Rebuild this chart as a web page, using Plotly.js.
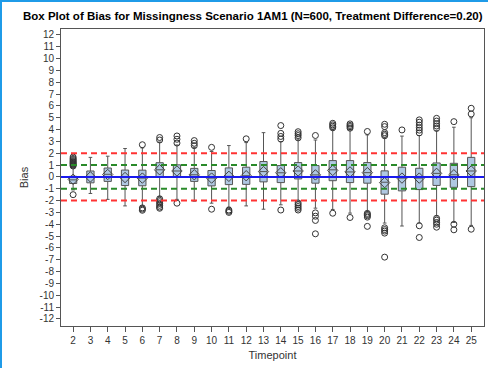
<!DOCTYPE html>
<html>
<head>
<meta charset="utf-8">
<script src="https://cdn.plot.ly/plotly-3.0.1.min.js"></script>
<style>
  html, body { margin: 0; padding: 0; background: #fff; }
  #wrap { position: relative; width: 488px; height: 368px; }
  #chart { width: 488px; height: 368px; }
  .edge { position: absolute; background: #1f9be8; }
</style>
</head>
<body>
<div id="wrap">
  <div id="chart"></div>
  <div class="edge" style="left:0;top:0;width:488px;height:2px;"></div>
  <div class="edge" style="left:0;top:0;width:2px;height:368px;"></div>
</div>
<script>
const timepoints   = [2, 3, 4, 5, 6, 7, 8, 9, 10, 11, 12, 13, 14, 15, 16, 17, 18, 19, 20, 21, 22, 23, 24, 25];
const q1           = [-0.56, -0.50, -0.38, -0.73, -0.75, 0.03, -0.05, -0.38, -0.76, -0.65, -0.63, -0.42, -0.48, -0.17, -0.53, -0.32, -0.48, -0.53, -1.46, -1.18, -1.07, -0.72, -0.88, -0.82];
const medians      = [-0.25, 0.00, 0.22, -0.05, -0.10, 0.60, 0.50, 0.18, -0.10, 0.05, 0.10, 0.45, 0.35, 0.50, 0.17, 0.60, 0.42, 0.36, -0.45, -0.10, -0.10, 0.30, 0.18, 0.50];
const q3           = [0.05, 0.50, 0.75, 0.58, 0.57, 1.20, 1.02, 0.72, 0.54, 0.76, 0.82, 1.30, 0.96, 1.21, 0.96, 1.38, 1.38, 1.21, 0.51, 0.82, 0.73, 1.18, 1.15, 1.65];
const lowerWhisker = [-1.10, -1.40, -1.90, -2.45, -2.45, -1.65, -1.90, -2.05, -2.22, -2.56, -2.45, -2.73, -2.36, -2.08, -2.64, -2.75, -3.06, -2.95, -3.90, -4.15, -3.90, -3.30, -3.85, -4.10];
const upperWhisker = [0.85, 1.65, 1.75, 2.40, 2.45, 2.95, 2.70, 2.50, 2.15, 2.65, 2.90, 3.74, 2.98, 3.20, 3.12, 4.00, 4.00, 3.55, 3.30, 3.45, 3.50, 3.90, 4.20, 5.00];
const means        = [-0.20, 0.00, 0.20, -0.05, -0.10, 0.60, 0.50, 0.18, -0.10, 0.05, 0.10, 0.45, 0.35, 0.50, 0.17, 0.55, 0.42, 0.36, -0.48, -0.10, -0.10, 0.30, 0.18, 0.50];
const outliers = [
  [0.92, 1.00, 1.08, 1.15, 1.22, 1.30, 1.38, 1.47, 1.56, 1.68, -1.50],
  [],
  [],
  [],
  [2.72, -2.62, -2.72, -2.82],
  [3.12, 3.33, -1.85, -1.98, -2.10, -2.25, -2.40, -2.55, -2.65],
  [2.86, 3.18, 3.46, -2.22],
  [2.64, 2.84, 3.07],
  [2.50, -2.73],
  [-2.80, -2.90, -3.00],
  [3.22],
  [],
  [3.20, 3.42, 3.68, 4.34, -2.80],
  [3.30, 3.50, 3.65, 3.82, -2.20, -2.35, -2.50, -2.65, -2.80],
  [3.50, -3.04, -3.32, -3.68, -4.81],
  [4.15, 4.28, 4.40, 4.53, -3.07],
  [4.12, 4.25, 4.35, 4.48, -3.43],
  [3.84, -3.08, -3.18, -3.28, -3.40, -4.18],
  [3.48, 3.60, 3.74, 4.25, 4.45, -4.30, -4.45, -4.58, -4.75, -6.78],
  [3.97],
  [3.72, 3.95, 4.15, 4.38, 4.62, 4.82, -4.13, -5.12],
  [4.10, 4.30, 4.50, 4.72, 4.95, -3.50, -3.65, -3.85, -4.00, -4.25],
  [4.67, -4.00, -4.47],
  [5.32, 5.80, -4.42]
];
const yTickVals = [-12, -11, -10, -9, -8, -7, -6, -5, -4, -3, -2, -1, 0, 1, 2, 3, 4, 5, 6, 7, 8, 9, 10, 11, 12];
const refValues = [2, -2, 1, -1, 0];
const refColors = ['#ff3333', '#ff3333', '#2a8a2a', '#2a8a2a', '#1a1aee'];
const refDashes = ['6px,4px', '6px,4px', '6px,4px', '6px,4px', 'solid'];

const outX = [], outY = [];
outliers.forEach((arr, i) => arr.forEach(v => { outX.push(timepoints[i]); outY.push(v); }));

const FONT = 'Liberation Sans, Arial, Helvetica, sans-serif';

const traces = [
  {
    type: 'box',
    x: timepoints,
    q1: q1,
    median: medians,
    q3: q3,
    lowerfence: lowerWhisker,
    upperfence: upperWhisker,
    boxpoints: false,
    width: 0.42,
    whiskerwidth: 0.5,
    fillcolor: '#b0c8e2',
    line: { color: '#555555', width: 1 },
    hoverinfo: 'skip',
    showlegend: false
  },
  {
    type: 'scatter',
    mode: 'markers',
    x: outX,
    y: outY,
    marker: { symbol: 'circle-open', size: 6, color: '#333333', line: { width: 1 } },
    hoverinfo: 'skip',
    showlegend: false
  },
  {
    type: 'scatter',
    mode: 'markers',
    x: timepoints,
    y: means,
    marker: { symbol: 'diamond-open', size: 8, color: '#444444', line: { width: 1 } },
    hoverinfo: 'skip',
    showlegend: false
  }
];

const shapes = refValues.map((v, i) => ({
  type: 'line', xref: 'paper', x0: 0, x1: 1, yref: 'y', y0: v, y1: v,
  line: { color: refColors[i], width: 2, dash: refDashes[i] },
  layer: 'above'
}));

const layout = {
  width: 488,
  height: 368,
  margin: { l: 61, r: 4, t: 29, b: 42 },
  paper_bgcolor: '#ffffff',
  plot_bgcolor: '#ffffff',
  font: { family: FONT, color: '#333333', size: 10 },
  title: {
    text: '<b>Box Plot of Bias for Missingness Scenario 1AM1 (N=600, Treatment Difference=0.20)</b>',
    font: { family: FONT, size: 11.5, color: '#000000' },
    xref: 'container', x: 0.518, xanchor: 'center',
    yref: 'container', y: 1 - 16 / 368, yanchor: 'middle'
  },
  xaxis: {
    range: [1.3, 25.74],
    tickvals: timepoints,
    ticktext: timepoints.map(String),
    ticks: 'outside', ticklen: 5, tickcolor: '#555555',
    showline: true, linecolor: '#555555', linewidth: 1, mirror: true,
    showgrid: false, zeroline: false,
    tickfont: { size: 10, color: '#333333' },
    title: { text: 'Timepoint', font: { size: 11, color: '#333333' }, standoff: 6 }
  },
  yaxis: {
    range: [-12.6, 12.5],
    tickvals: yTickVals,
    ticktext: yTickVals.map(String),
    ticks: 'outside', ticklen: 4, tickcolor: '#555555',
    showline: true, linecolor: '#555555', linewidth: 1, mirror: true,
    showgrid: false, zeroline: false,
    tickfont: { size: 10, color: '#333333' },
    title: { text: 'Bias', font: { size: 11, color: '#333333' }, standoff: 8 }
  },
  shapes: shapes
};

Plotly.newPlot('chart', traces, layout, { staticPlot: true, displayModeBar: false });
</script>
</body>
</html>
